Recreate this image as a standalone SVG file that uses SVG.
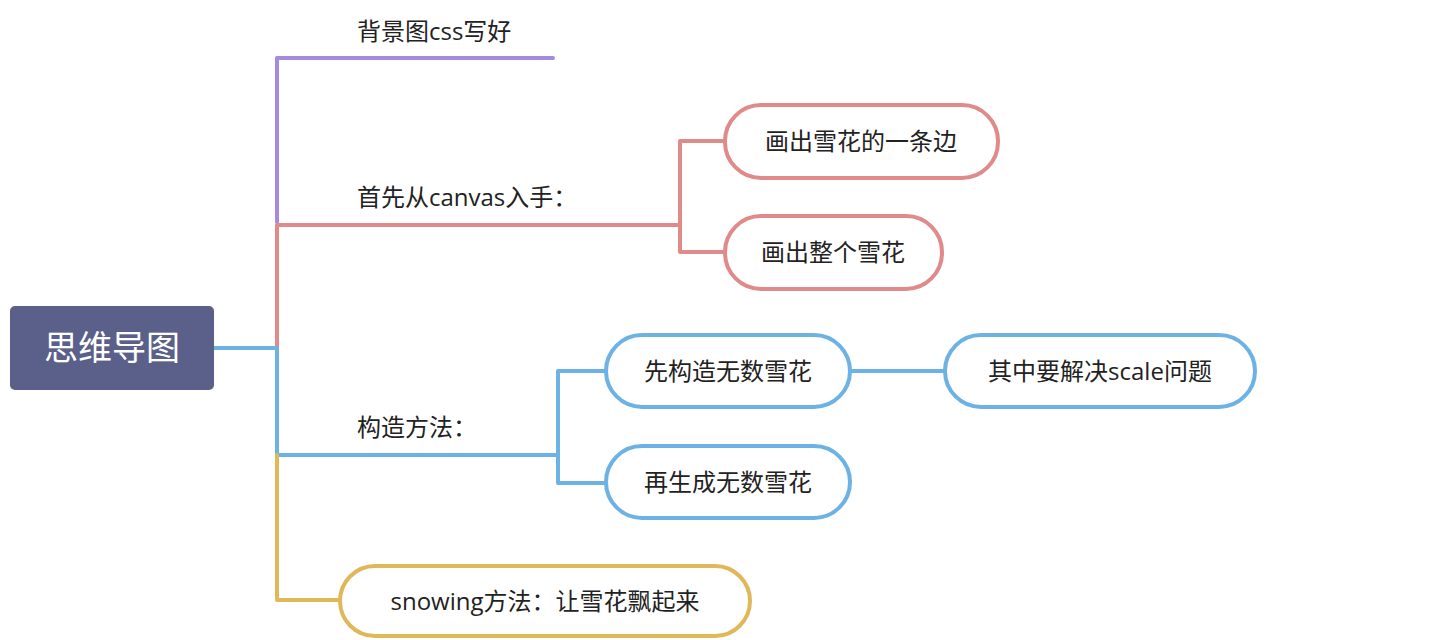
<svg xmlns="http://www.w3.org/2000/svg" width="1454" height="640" viewBox="0 0 1454 640">
<style>
text{font-family:"Open Sans","Noto Sans CJK SC",sans-serif;font-size:24px;fill:#222}
.c{fill:none;stroke-width:4;stroke-linecap:round;stroke-linejoin:round}
.n{fill:#fff;stroke-width:4}
.r{stroke:#e08a8a}.b{stroke:#6cb2e4}.p{stroke:#a48ae0}.y{stroke:#e0b85a}
</style>
<rect width="1454" height="640" fill="#fff"/>
<g id="connectors">
<path class="c b" d="M214 348H277"/>
<path class="c p" d="M277 222V58H553"/>
<path class="c r" d="M277 348V225H680M680 141V252M680 141H725M680 252H725"/>
<path class="c b" d="M277 348V455H558M558 371V483M558 371H606M558 483H606M850 371H945"/>
<path class="c y" d="M277 455V600H340"/>
</g>
<g id="root"><rect x="10" y="306" width="204" height="84" rx="5" fill="#5a6089"/><text x="112" y="360" text-anchor="middle" style="font-size:34px;fill:#fff">思维导图</text></g>
<g id="n1"><text x="357" y="40">背景图css写好</text></g>
<g id="n2"><text x="357" y="206">首先从canvas入手：</text></g>
<g id="n3"><rect class="n r" x="725" y="105" width="273" height="73" rx="36"/><text x="861" y="150" text-anchor="middle">画出雪花的一条边</text></g>
<g id="n4"><rect class="n r" x="725" y="216" width="217" height="73" rx="36"/><text x="833" y="261" text-anchor="middle">画出整个雪花</text></g>
<g id="n5"><text x="357" y="436">构造方法：</text></g>
<g id="n6"><rect class="n b" x="606" y="335" width="244" height="72" rx="36"/><text x="728" y="380" text-anchor="middle">先构造无数雪花</text></g>
<g id="n7"><rect class="n b" x="945" y="335" width="310" height="72" rx="36"/><text x="1100" y="380" text-anchor="middle">其中要解决scale问题</text></g>
<g id="n8"><rect class="n b" x="606" y="446" width="244" height="72" rx="36"/><text x="728" y="491" text-anchor="middle">再生成无数雪花</text></g>
<g id="n9"><rect class="n y" x="340" y="566" width="410" height="70" rx="35"/><text x="545" y="610" text-anchor="middle">snowing方法：让雪花飘起来</text></g>
</svg>
